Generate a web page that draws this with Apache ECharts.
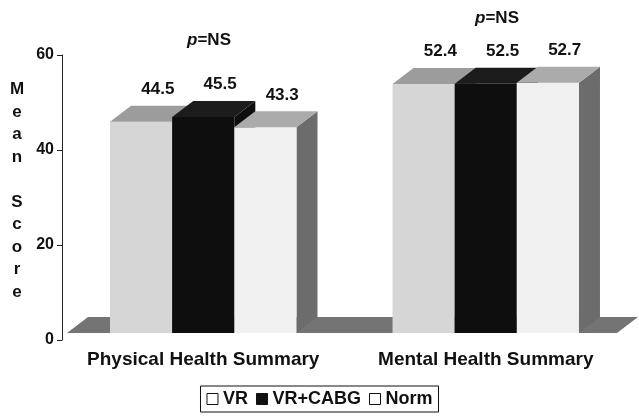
<!DOCTYPE html>
<html>
<head>
<meta charset="utf-8">
<script src="https://cdn.jsdelivr.net/npm/echarts@6/dist/echarts.min.js"></script>
<style>
  html, body { margin: 0; padding: 0; background: #fff; }
  #chart { width: 639px; height: 417px; }
</style>
</head>
<body>
<div id="chart"></div>
<script>
const categories = ['Physical Health Summary', 'Mental Health Summary']
const seriesNames = ['VR', 'VR+CABG', 'Norm']
const vrValues = [44.5, 52.4]
const cabgValues = [45.5, 52.5]
const normValues = [43.3, 52.7]
const yTicks = [0, 20, 40, 60]
const pLabels = ['p=NS', 'p=NS']

const FONT = 'Liberation Sans, Arial, sans-serif'
// fake 3d depth
const DX = 21
const DY = 16
const LIFT = 7
const BAR_FRAC = 0.22

const faces = [
  { front: '#d6d6d6', top: '#9c9c9c', side: '#6c6c6c', legend: '#ffffff' },
  { front: '#0e0e0e', top: '#1c1c1c', side: '#0e0e0e', legend: '#111111' },
  { front: '#f0f0f0', top: '#ababab', side: '#6c6c6c', legend: '#ffffff' }
]

const myChart = echarts.init(document.getElementById('chart'))

const barRenderer = (idx) => (params, api) => {
  const cat = api.value(0)
  const val = api.value(1)
  const top = api.coord([cat, val])
  const base = api.coord([cat, 0])
  const w = api.size([1, 0])[0] * BAR_FRAC
  const x0 = top[0] + (idx - 1.5) * w
  const y0 = top[1] - LIFT
  const y1 = base[1] - LIFT
  const f = faces[idx]
  return {
    type: 'group',
    children: [
      {
        type: 'polygon',
        shape: { points: [[x0 + w, y0], [x0 + w + DX, y0 - DY], [x0 + w + DX, y1 - DY], [x0 + w, y1]] },
        style: { fill: f.side }
      },
      {
        type: 'rect',
        shape: { x: x0, y: y0, width: w, height: y1 - y0 },
        style: { fill: f.front }
      },
      {
        type: 'polygon',
        shape: { points: [[x0, y0], [x0 + DX, y0 - DY], [x0 + w + DX, y0 - DY], [x0 + w, y0]] },
        style: { fill: f.top }
      },
      {
        type: 'text',
        x: x0 + w / 2 + DX * 0.8,
        y: y0 - DY - 8,
        style: {
          text: val.toFixed(1),
          fill: '#111',
          font: 'bold 17px ' + FONT,
          align: 'center',
          verticalAlign: 'bottom'
        }
      }
    ]
  }
}

const floorRenderer = (params, api) => {
  const cs = params.coordSys
  const yb = api.coord([0, 0])[1] - LIFT
  const xl = cs.x + 5
  const xr = cs.x + cs.width - 10
  return {
    type: 'polygon',
    shape: { points: [[xl, yb], [xl + DX, yb - DY], [xr + DX, yb - DY], [xr, yb]] },
    style: { fill: '#747474' }
  }
}

const allValues = [vrValues, cabgValues, normValues]

const option = {
  animation: false,
  grid: { left: 62, right: 12, top: 55, bottom: 77 },
  legend: {
    bottom: 5,
    left: 'center',
    borderColor: '#111',
    borderWidth: 1,
    padding: [4, 6],
    itemGap: 8,
    itemWidth: 11,
    itemHeight: 11,
    textStyle: { color: '#111', fontFamily: FONT, fontWeight: 'bold', fontSize: 18 },
    selectedMode: false,
    data: seriesNames.map((name, i) => ({
      name,
      icon: 'rect',
      itemStyle: { color: faces[i].legend, borderColor: '#111', borderWidth: 1 }
    }))
  },
  xAxis: {
    type: 'category',
    data: categories,
    axisLine: { show: false },
    axisTick: { show: false },
    axisLabel: { interval: 0, color: '#111', fontFamily: FONT, fontWeight: 'bold', fontSize: 19, margin: 10 }
  },
  yAxis: {
    type: 'value',
    min: yTicks[0],
    max: yTicks[yTicks.length - 1],
    interval: yTicks[1] - yTicks[0],
    axisLine: { show: true, lineStyle: { color: '#222', width: 1 } },
    axisTick: { show: true, length: 5, lineStyle: { color: '#222' } },
    axisLabel: { color: '#111', fontFamily: FONT, fontWeight: 'bold', fontSize: 16, margin: 8 },
    splitLine: { show: false }
  },
  graphic: [
    {
      type: 'text',
      x: 17,
      y: 191,
      style: {
        text: 'M\ne\na\nn\n\nS\nc\no\nr\ne',
        fill: '#111',
        font: 'bold 17px ' + FONT,
        lineHeight: 22.5,
        align: 'center',
        verticalAlign: 'middle'
      }
    },
    ...pLabels.map((t, i) => ({
      type: 'text',
      x: [209, 497][i],
      y: [40, 18][i],
      style: {
        text: '{i|' + t.slice(0, 1) + '}{n|' + t.slice(1) + '}',
        align: 'center',
        verticalAlign: 'middle',
        rich: {
          i: { fill: '#111', fontFamily: FONT, fontWeight: 'bold', fontStyle: 'italic', fontSize: 17 },
          n: { fill: '#111', fontFamily: FONT, fontWeight: 'bold', fontSize: 17 }
        }
      }
    }))
  ],
  series: [
    {
      type: 'custom',
      name: 'floor',
      renderItem: floorRenderer,
      data: [[0, 0]],
      silent: true
    },
    ...seriesNames.map((name, i) => ({
      type: 'custom',
      name,
      itemStyle: { color: faces[i].legend },
      renderItem: barRenderer(i),
      encode: { x: 0, y: 1 },
      data: allValues[i].map((v, j) => [j, v])
    }))
  ]
}

myChart.setOption(option)
</script>
</body>
</html>
